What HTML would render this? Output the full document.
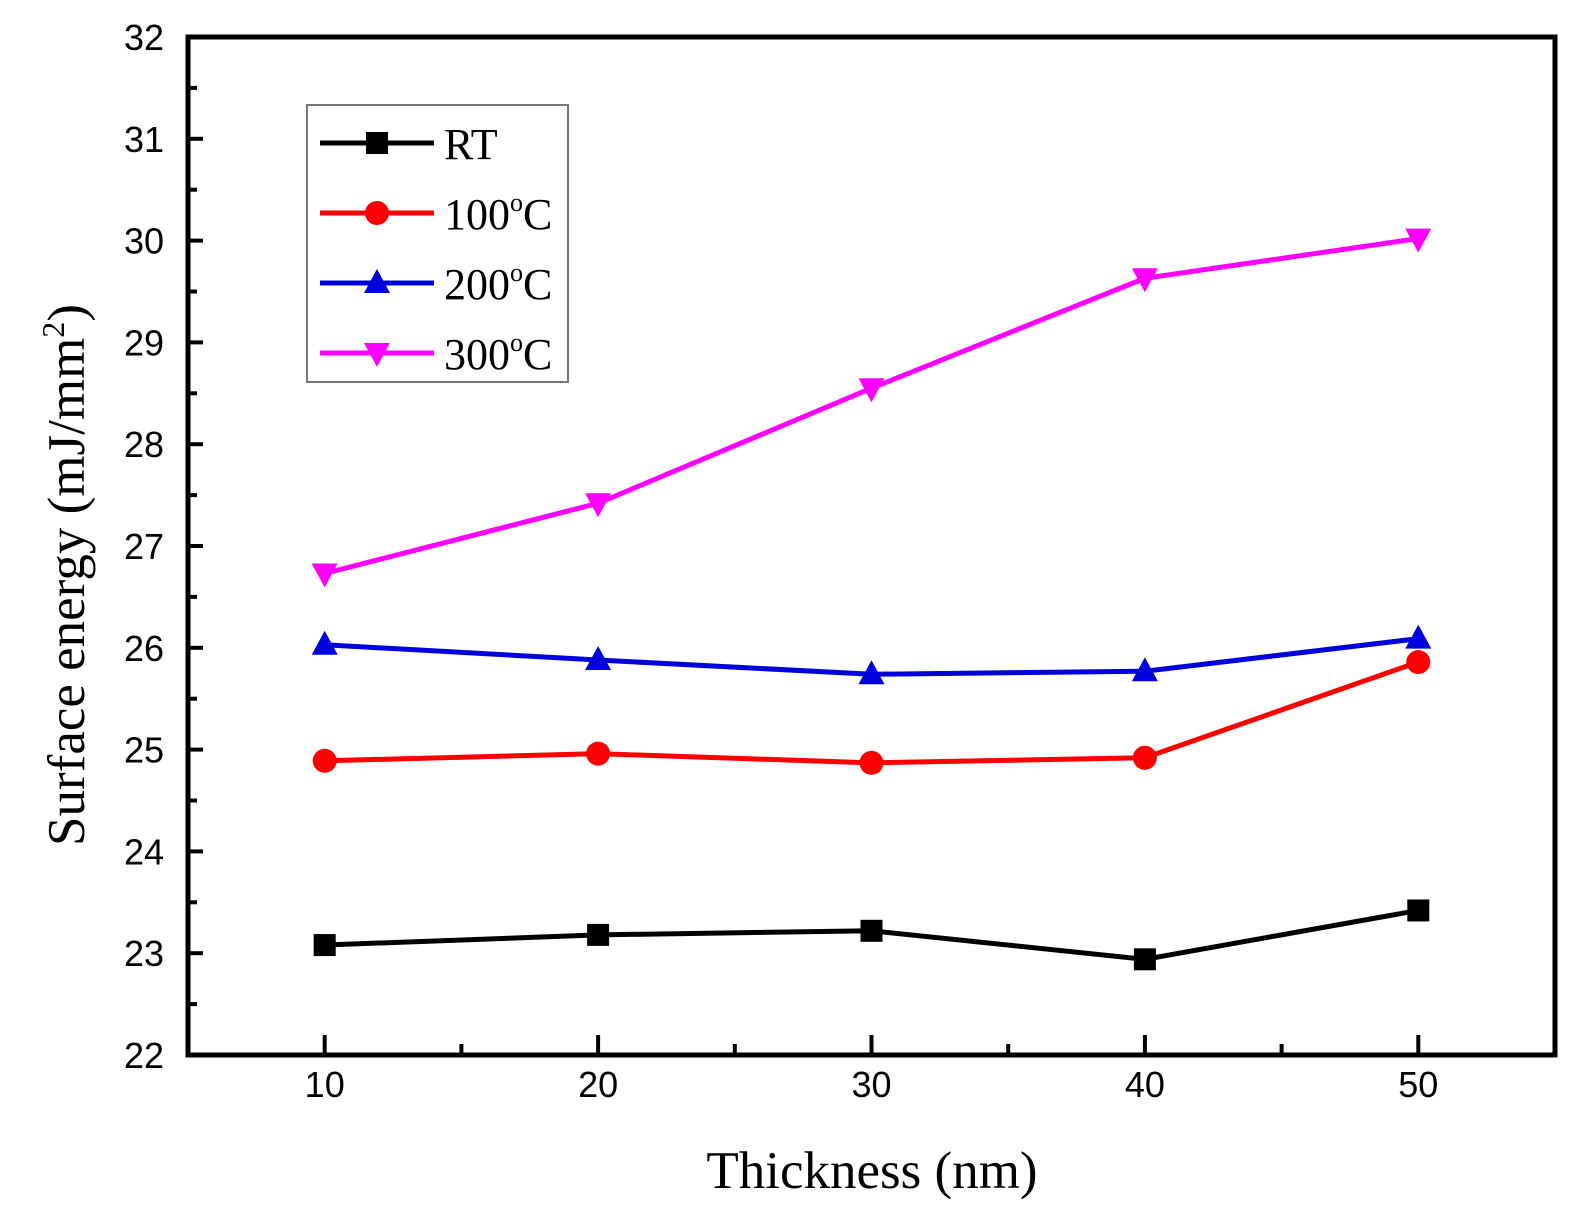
<!DOCTYPE html>
<html><head><meta charset="utf-8"><style>
body{margin:0;background:#fff}
svg text{font-family:"Liberation Sans",sans-serif}
.serif{font-family:"Liberation Serif",serif}
</style></head><body>
<svg id="chart" width="1583" height="1220" viewBox="0 0 1583 1220" xmlns="http://www.w3.org/2000/svg">
<g id="marks"></g>
</svg>
<script>
const categories=[10,20,30,40,50];
const rtValues=[23.08,23.18,23.22,22.94,23.42];
const c100Values=[24.89,24.96,24.87,24.92,25.86];
const c200Values=[26.03,25.88,25.74,25.77,26.09];
const c300Values=[26.73,27.42,28.55,29.63,30.02];
const yTicks=[22,23,24,25,26,27,28,29,30,31,32];
const xTicks=[10,20,30,40,50];
const seriesNames=["RT","100","200","300"];

const L=188,R=1555,T=37,B=1055;
const xs=v=>L+(v-5)/50*(R-L);
const ys=v=>B-(v-22)/10*(B-T);
const NS="http://www.w3.org/2000/svg";
const svg=document.getElementById('marks');
function mk(tag,attrs,parent){const e=document.createElementNS(NS,tag);for(const k in attrs)e.setAttribute(k,attrs[k]);(parent||svg).appendChild(e);return e;}

const fr=mk('rect',{x:L,y:T,width:R-L,height:B-T,fill:'none',stroke:'#000','stroke-width':5});


yTicks.forEach((v,i)=>{
  const y=ys(v);
  const t=mk('line',{x1:L,x2:L+15,y1:y,y2:y,stroke:'#000','stroke-width':4});
  
  
  if(i<yTicks.length-1){const m=mk('line',{x1:L,x2:L+9,y1:ys(v+0.5),y2:ys(v+0.5),stroke:'#000','stroke-width':4});
  
  }
  const tx=mk('text',{x:164,y:y+13,'text-anchor':'end','font-size':36});
  
  
  tx.textContent=v;
});
xTicks.forEach(v=>{
  const x=xs(v);
  const t=mk('line',{x1:x,x2:x,y1:B,y2:B-20,stroke:'#000','stroke-width':4});
  
  
  const m=mk('line',{x1:xs(v+5),x2:xs(v+5),y1:B,y2:B-11,stroke:'#000','stroke-width':4});
  
  
  const tx=mk('text',{x:x,y:B+42,'text-anchor':'middle','font-size':36});
  
  
  tx.textContent=v;
});
const m0=mk('line',{x1:xs(5),x2:xs(5),y1:B,y2:B-11,stroke:'#000','stroke-width':4});



const xt=mk('text',{x:872,y:1188,'text-anchor':'middle','font-size':53,class:'serif'});


xt.textContent='Thickness (nm)';
const yt=mk('text',{x:0,y:0,'text-anchor':'middle','font-size':53,class:'serif',transform:'translate(84,575) rotate(-90)'});


yt.innerHTML='Surface energy (mJ/mm<tspan dy="-20" font-size="32">2</tspan><tspan dy="20">)</tspan>';

function marker(shape,x,y,color,parent){
  let e;
  if(shape==='square') e=mk('rect',{x:x-11,y:y-11,width:22,height:22,fill:color},parent);
  else if(shape==='circle') e=mk('circle',{cx:x,cy:y,r:12,fill:color},parent);
  else if(shape==='up') e=mk('polygon',{points:`${x},${y-14} ${x-13},${y+10} ${x+13},${y+10}`,fill:color},parent);
  else e=mk('polygon',{points:`${x},${y+14} ${x-13},${y-10} ${x+13},${y-10}`,fill:color},parent);
  return e;
}
const series=[[rtValues,'#000','square'],[c100Values,'#ff0000','circle'],[c200Values,'#0000dd','up'],[c300Values,'#ff00ff','down']];
series.forEach(([vals,col,sh],si)=>{
  const g=mk('g',{});
  
  
  const pl=mk('polyline',{points:vals.map((v,i)=>xs(categories[i])+','+ys(v)).join(' '),fill:'none',stroke:col,'stroke-width':5},g);
  
  
  vals.forEach((v,i)=>{const p=marker(sh,xs(categories[i]),ys(v),col,g);
    
    });
});

const lg=mk('g',{});


const lb=mk('rect',{x:307,y:105,width:261,height:277,fill:'#fff',stroke:'#777','stroke-width':2},lg);


series.forEach(([vals,col,sh],i)=>{
  const y=143+i*70;
  const e=mk('g',{},lg);
  
  
  mk('line',{x1:320,x2:434,y1:y,y2:y,stroke:col,'stroke-width':5},e);
  marker(sh,377,y,col,e);
  const t=mk('text',{x:444,y:y+16,'font-size':44,class:'serif'},e);
  
  
  if(i===0) t.textContent='RT';
  else t.innerHTML=seriesNames[i]+'<tspan dy="-18" font-size="26">o</tspan><tspan dy="18">C</tspan>';
});
</script>
</body></html>
